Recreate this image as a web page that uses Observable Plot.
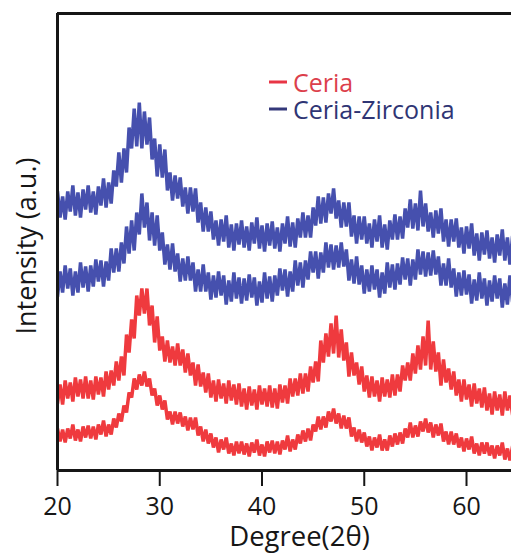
<!DOCTYPE html>
<html>
<head>
<meta charset="utf-8">
<script src="https://cdn.jsdelivr.net/npm/d3@7"></script>
<script src="https://cdn.jsdelivr.net/npm/@observablehq/plot@0.6"></script>
<style>
  html, body { margin: 0; padding: 0; background: #fff; }
  #chart { width: 511px; height: 559px; }
</style>
</head>
<body>
<div id="chart"></div>
<script>
// XRD scans, 2θ from 20° in 0.25° steps (intensity in arbitrary units, stacked offsets included)
const scanStart = 20;
const scanStep = 0.25;
const degreeTicks = [20, 30, 40, 50, 60];
const degreeDomain = [20, 64.4];
const intensityDomain = [0, 457];

const materials = ["Ceria", "Ceria-Zirconia"];
const lineColors = ["#ef3a3e", "#4650ae"];
const legendDashColors = ["#e83545", "#34387a"];
const legendTextColors = ["#dc3f4c", "#2f3574"];

// Ceria-Zirconia, upper scan
const ceriaZirconiaUpper = [
  279,253,274,251,279,259,285,255,278,253,281,261,
  285,258,279,256,284,265,292,263,288,267,300,284,
  318,288,322,298,343,322,362,324,368,322,359,326,
  353,311,332,294,326,293,321,280,298,270,295,272,
  293,264,283,257,283,259,282,248,268,239,263,239,
  259,231,250,225,251,229,255,223,246,220,247,226,
  250,223,244,220,248,227,253,222,245,219,247,225,
  249,222,243,219,247,227,254,224,248,223,252,233,
  258,233,255,233,263,245,274,247,273,248,277,257,
  282,252,270,243,268,244,268,234,255,227,254,231,
  254,227,247,223,251,229,255,223,246,221,250,231,
  256,231,254,232,262,243,271,242,267,240,280,244,
  267,239,258,233,260,237,262,229,251,224,251,229,
  252,223,243,217,244,222,247,215,237,210,238,216,
  240,212,233,208,236,215,241,210,233,206,234
];

// Ceria-Zirconia, lower scan
const ceriaZirconiaLower = [
  174,199,178,205,182,202,175,199,178,208,183,204,
  179,205,184,211,189,210,184,209,190,222,198,222,
  199,228,207,244,217,250,220,258,236,277,243,268,
  230,258,225,255,220,238,206,226,201,227,199,217,
  189,212,190,214,190,208,179,201,179,206,179,198,
  171,195,173,199,175,195,166,190,169,198,172,193,
  167,192,170,196,173,193,165,189,168,198,172,194,
  169,195,175,202,180,201,174,199,179,210,185,208,
  183,210,191,219,198,219,192,218,198,228,203,226,
  201,225,203,228,204,221,190,211,187,214,186,205,
  177,201,179,205,181,201,173,198,177,208,183,206,
  181,207,186,213,191,212,185,211,191,221,196,219,
  194,218,195,220,196,214,185,207,185,212,183,202,
  174,198,175,200,176,196,167,191,170,198,172,192,
  165,190,169,195,172,192,163,187,166,195,169
];

// Ceria, upper scan
const ceriaUpper = [
  67,86,66,90,72,88,69,93,74,91,72,94,
  72,90,71,94,76,93,74,99,81,100,85,109,
  90,114,95,136,118,151,132,175,155,182,157,182,
  145,165,128,154,120,134,109,130,108,124,105,127,
  105,121,98,117,95,108,85,106,84,98,78,97,
  73,90,69,91,72,87,67,90,70,86,66,87,
  64,82,61,84,65,81,61,85,66,82,64,85,
  63,82,62,86,68,85,67,92,74,92,75,97,
  77,97,79,104,88,109,89,130,108,137,114,147,
  117,155,113,141,110,128,94,118,95,108,86,104,
  79,95,73,94,74,90,69,93,74,91,73,96,
  75,96,79,105,90,108,90,117,97,125,101,134,
  105,150,101,129,99,118,85,111,88,102,81,99,
  75,91,69,91,71,86,64,87,67,82,63,83,
  60,77,56,79,60,76,55,79,60,75,56
];

// Ceria, lower scan
const ceriaLower = [
  42,29,41,28,42,32,46,30,41,29,44,33,
  45,32,44,31,46,36,50,34,46,36,52,43,
  57,49,65,58,78,73,92,81,96,85,99,84,
  92,75,82,65,75,61,70,51,59,46,59,47,
  58,44,54,40,53,41,53,35,44,29,41,27,
  37,23,33,18,31,21,33,17,27,15,29,17,
  29,16,27,14,28,18,31,15,26,14,29,18,
  30,17,29,16,30,21,35,19,31,21,36,27,
  40,29,42,30,46,39,54,41,54,43,59,49,
  62,47,57,42,55,42,53,34,43,29,41,28,
  38,24,34,20,33,23,36,20,31,20,35,24,
  37,26,38,27,42,33,48,33,45,34,49,39,
  52,38,48,33,46,35,47,29,39,26,39,26,
  37,23,33,19,32,21,34,17,27,15,28,17,
  28,15,25,12,25,15,28,11,22,10,24
];

const scans = [
  {id: "cz-upper", material: "Ceria-Zirconia", values: ceriaZirconiaUpper},
  {id: "cz-lower", material: "Ceria-Zirconia", values: ceriaZirconiaLower},
  {id: "c-upper", material: "Ceria", values: ceriaUpper},
  {id: "c-lower", material: "Ceria", values: ceriaLower}
];

const rows = scans.flatMap(s =>
  s.values.map((v, i) => ({deg: scanStart + i * scanStep, intensity: v, scan: s.id, material: s.material}))
);

const fontStack = "'Open Sans', 'Noto Sans', sans-serif";
const ink = "#161616";

// Legend drawn in the upper right part of the frame
function legend() {
  const g = d3.create("svg:g")
    .attr("font-family", fontStack)
    .attr("font-size", 25)
    .attr("text-anchor", "start");
  materials.forEach((name, i) => {
    const cy = 83 + i * 27;
    g.append("line")
      .attr("x1", 269).attr("x2", 287)
      .attr("y1", cy - 1).attr("y2", cy - 1)
      .attr("stroke", legendDashColors[i]).attr("stroke-width", 3);
    g.append("text")
      .attr("x", 293).attr("y", cy).attr("dy", "0.36em")
      .attr("text-anchor", "start")
      .attr("fill", legendTextColors[i])
      .text(name);
  });
  return g.node();
}

const chart = Plot.plot({
  width: 511,
  height: 559,
  marginLeft: 57,
  marginRight: 0,
  marginTop: 13,
  marginBottom: 89,
  style: {fontFamily: fontStack, background: "#fff", color: ink},
  x: {domain: degreeDomain},
  y: {domain: intensityDomain, axis: null},
  color: {domain: materials, range: lineColors},
  marks: [
    Plot.lineY(rows, {
      x: "deg", y: "intensity", z: "scan", stroke: "material",
      strokeWidth: 3.5, strokeLinejoin: "bevel", clip: true
    }),
    Plot.ruleX([degreeDomain[0]], {stroke: ink, strokeWidth: 3}),
    Plot.ruleY([intensityDomain[0]], {stroke: ink, strokeWidth: 3}),
    Plot.ruleY([intensityDomain[1]], {stroke: ink, strokeWidth: 3}),
    Plot.axisX({
      ticks: degreeTicks, tickSize: 16, tickPadding: 11,
      fontSize: 25, strokeWidth: 2, stroke: ink, fill: ink, label: null
    }),
    Plot.text(["Degree(2θ)"], {
      text: d => d, frameAnchor: "bottom", dx: 15, dy: 75, fontSize: 27.5, fill: ink
    }),
    Plot.text(["Intensity (a.u.)"], {
      text: d => d, frameAnchor: "left", textAnchor: "middle", rotate: -90,
      dx: -30, dy: 4, fontSize: 27, fill: ink
    }),
    legend
  ]
});

document.getElementById("chart").appendChild(chart);
</script>
</body>
</html>
